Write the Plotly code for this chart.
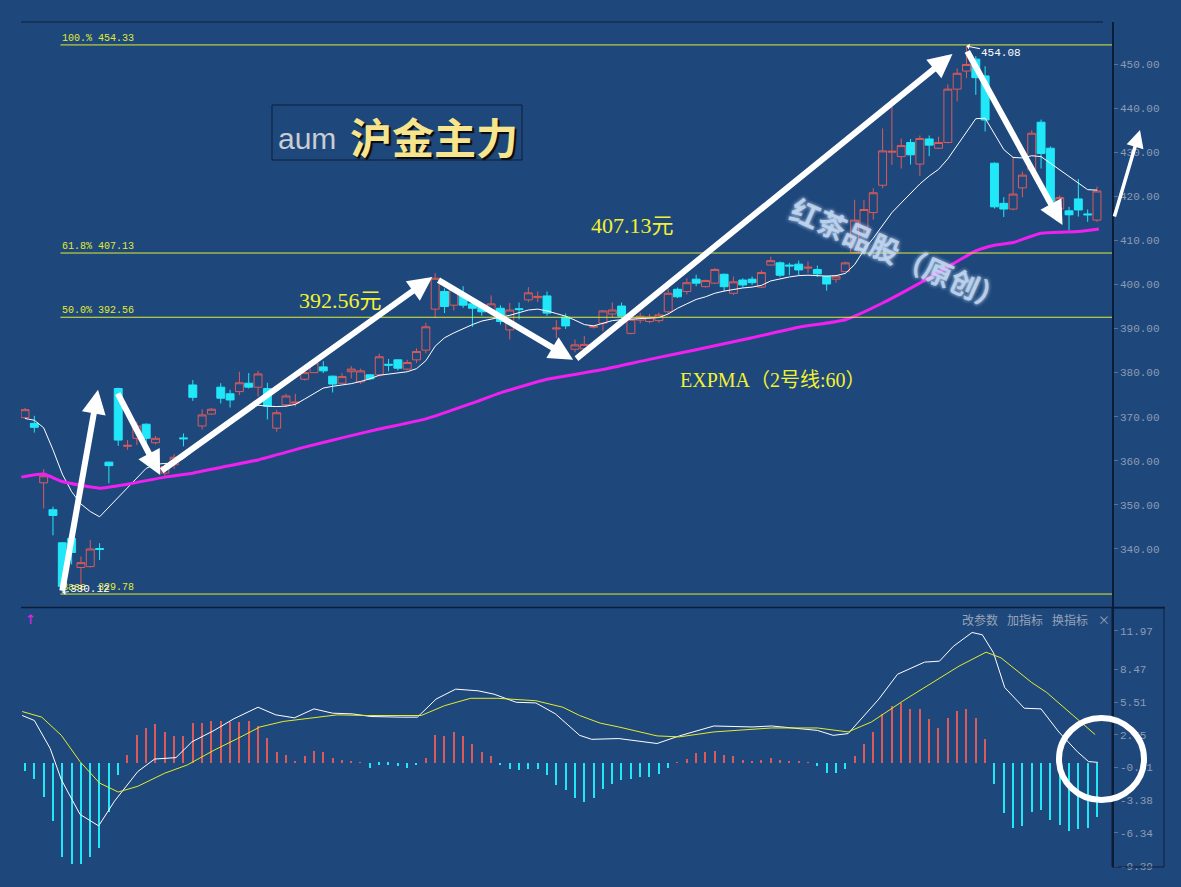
import plotly.graph_objects as go

# ---------------- data ----------------
opens = [369.8, 368.5, 355.0, 348.9, 341.4, 342.4, 335.8, 336.0, 340.1, 359.7,
         376.4, 363.3, 365.1, 368.3, 364.1, 357.2, 359.1, 365.2, 377.2, 367.9,
         370.6, 376.7, 375.2, 375.7, 377.6, 376.7, 376.4, 367.4, 372.7, 373.1,
         378.5, 380.0, 381.3, 379.2, 377.6, 380.2, 377.9, 379.5, 379.5, 381.9,
         382.9, 380.8, 382.9, 385.1, 394.4, 398.4, 395.3, 397.6, 395.6, 395.3,
         394.0, 394.6, 389.7, 394.5, 396.5, 397.0, 397.4, 389.9, 392.6, 385.3,
         385.4, 390.3, 391.2, 393.3, 395.1, 388.9, 391.9, 391.6, 391.8, 393.8,
         398.9, 398.4, 401.2, 399.5, 400.3, 402.3, 398.0, 401.0, 401.2, 399.4,
         404.4, 404.9, 404.4, 404.6, 403.7, 403.4, 401.8, 401.2, 402.9, 407.2,
         413.0, 416.3, 422.5, 430.0, 429.0, 432.2, 427.3, 433.0, 430.9, 432.2,
         444.3, 448.4, 451.1, 447.3, 427.5, 418.4, 417.1, 421.9, 426.0, 436.8,
         430.9, 417.1, 416.7, 419.4, 416.0, 414.6]
highs = [372.0, 370.2, 358.1, 349.6, 341.6, 342.6, 338.3, 342.0, 341.3, 359.8,
         376.6, 364.7, 368.9, 368.5, 365.6, 359.4, 361.5, 366.2, 378.3, 371.7,
         372.0, 377.6, 376.1, 380.2, 379.9, 380.4, 377.7, 371.5, 375.2, 375.2,
         380.4, 383.1, 382.6, 379.3, 379.9, 381.5, 380.9, 379.6, 384.3, 383.1,
         383.0, 382.9, 385.5, 391.3, 402.6, 399.1, 399.6, 399.6, 396.1, 395.8,
         397.5, 395.3, 395.8, 395.9, 399.4, 398.4, 398.4, 391.9, 393.4, 387.5,
         388.3, 390.8, 394.2, 395.9, 395.9, 392.6, 393.6, 393.3, 393.6, 399.1,
         399.3, 401.4, 402.2, 401.1, 403.7, 402.5, 401.8, 401.4, 401.8, 403.2,
         406.3, 405.2, 404.9, 405.4, 405.2, 404.3, 402.0, 402.1, 405.2, 419.2,
         419.2, 421.8, 435.4, 442.2, 433.1, 433.0, 433.8, 433.8, 433.5, 445.4,
         449.0, 454.08, 451.8, 449.5, 427.7, 419.8, 429.0, 425.6, 435.0, 437.4,
         431.3, 420.2, 417.6, 423.9, 417.0, 422.2]
lows = [369.5, 366.4, 349.2, 343.1, 330.12, 336.5, 330.3, 335.8, 337.5, 354.9,
        363.4, 362.5, 363.6, 363.6, 363.7, 356.5, 358.2, 363.3, 373.6, 367.1,
        370.4, 373.0, 372.1, 374.9, 376.4, 374.6, 369.4, 366.6, 372.2, 372.3,
        378.2, 379.9, 379.9, 375.5, 377.4, 378.7, 377.4, 378.3, 379.1, 380.3,
        380.5, 380.5, 382.2, 384.4, 392.4, 393.5, 394.1, 394.7, 390.4, 392.9,
        393.1, 390.9, 387.5, 392.1, 396.0, 396.0, 392.9, 387.8, 389.9, 384.6,
        384.8, 390.0, 389.4, 392.4, 392.3, 388.7, 391.2, 391.2, 391.3, 393.3,
        396.9, 397.7, 399.6, 399.3, 400.1, 398.4, 397.6, 399.3, 399.9, 399.2,
        404.3, 401.7, 402.1, 402.1, 402.6, 401.7, 398.6, 400.4, 402.7, 407.1,
        411.1, 414.7, 421.8, 427.1, 426.3, 427.2, 424.6, 429.1, 430.7, 432.0,
        441.5, 446.8, 443.0, 434.7, 417.2, 415.3, 416.8, 419.8, 425.6, 426.3,
        418.5, 416.6, 412.3, 415.4, 414.2, 414.2]
closes = [371.6, 367.6, 356.6, 347.6, 331.5, 339.2, 336.9, 340.0, 339.9, 358.9,
          364.7, 363.5, 367.9, 365.1, 365.1, 358.7, 360.8, 365.0, 374.4, 370.4,
          371.7, 374.2, 373.8, 377.7, 376.7, 379.7, 372.4, 370.9, 374.7, 373.3,
          380.0, 382.2, 380.4, 377.4, 379.1, 380.8, 380.4, 378.6, 383.6, 381.7,
          381.0, 382.3, 384.8, 390.4, 401.4, 395.0, 398.9, 395.3, 394.6, 393.8,
          395.6, 391.6, 394.2, 394.3, 398.1, 397.3, 393.5, 390.1, 390.6, 386.3,
          386.4, 390.5, 394.0, 394.2, 392.8, 392.1, 392.8, 392.6, 393.1, 398.0,
          397.2, 400.4, 400.3, 400.9, 403.4, 399.5, 400.6, 399.9, 400.4, 402.7,
          405.4, 402.1, 404.2, 403.3, 403.9, 402.4, 400.1, 401.9, 404.9, 414.6,
          417.0, 420.8, 430.3, 430.2, 431.5, 429.4, 433.1, 431.6, 432.2, 444.3,
          447.9, 449.9, 446.9, 437.3, 417.6, 417.1, 420.5, 424.8, 434.3, 429.7,
          418.8, 419.7, 415.8, 416.9, 415.8, 421.2]

# short EXPMA (white), one value per bar
ema_short = [369.6, 369.2, 367.5, 362.5, 357.0, 353.0, 350.2, 348.5, 347.3, 349.5,
             351.6, 354.0, 356.0, 358.3, 359.2, 359.4, 359.4, 360.5, 362.2, 364.0,
             366.0, 367.8, 369.3, 370.8, 372.0, 372.6, 372.4, 372.3, 372.4, 372.8,
             374.0, 375.3, 376.5, 376.9, 377.2, 377.5, 378.0, 378.6, 379.4, 379.7,
             380.0, 380.2, 380.9, 382.7, 386.0, 387.9, 389.0, 390.0, 390.9, 391.7,
             392.1, 392.5, 393.0, 393.6, 394.2, 394.4, 394.0, 393.4, 392.8, 391.9,
             390.9, 390.6, 391.2, 391.8, 392.0, 392.1, 392.2, 392.3, 392.5, 393.3,
             394.6, 395.6, 396.6, 397.2, 398.0, 398.5, 398.9, 399.2, 399.4, 399.8,
             400.8, 401.3, 401.7, 402.0, 402.1, 402.0, 401.9, 402.0, 402.5, 404.5,
             407.8, 410.5, 413.5, 416.3, 418.5, 420.6, 422.8, 424.6, 426.1, 428.5,
             431.6, 434.8, 437.6, 437.7, 434.0, 430.6, 428.8, 428.7, 429.2, 429.0,
             427.5, 426.0, 424.5, 423.0, 421.5, 421.4]
# EXPMA 60 (magenta), read at points along the line
ema60_idx = [-0.4, 2, 4, 8, 11, 15, 18, 21, 25, 30, 34, 38, 43, 48, 51, 56, 62, 67,
             72, 78, 83, 88, 92, 97, 102, 104, 106, 109, 113, 115.2]
ema60_val = [356.3, 357.0, 355.3, 353.8, 354.7, 356.3, 357.2, 358.5, 360.2, 363.1,
             365.2, 367.2, 369.5, 373.1, 375.4, 378.5, 380.7, 383.0, 385.2, 387.9,
             390.3, 392.0, 395.8, 401.5, 407.6, 408.9, 409.5, 411.6, 412.0, 412.6]

# MACD histogram, one value per bar
macd_hist = [-0.78, -1.43, -3.14, -5.32, -8.55, -9.15, -9.21, -8.55, -7.71, -4.42,
             -1.14, 0.72, 2.51, 3.20, 3.50, 2.75, 2.45, 2.45, 3.59, 3.59,
             3.80, 3.80, 3.71, 3.71, 3.80, 3.35, 2.21, 1.02, 0.72, 0.12,
             0.66, 1.10, 1.02, 0.42, 0.21, 0.15, 0.05, -0.48, -0.18, -0.18,
             -0.30, -0.45, -0.24, 0.42, 2.51, 2.45, 2.75, 2.45, 1.70, 0.96,
             0.66, -0.24, -0.54, -0.69, -0.54, -0.54, -1.14, -2.03, -2.48, -3.23,
             -3.53, -3.23, -2.39, -1.88, -1.58, -1.43, -1.29, -1.29, -0.99, -0.48,
             0.05, 0.33, 0.90, 1.02, 1.10, 0.72, 0.66, 0.21, 0.12, 0.21,
             0.42, 0.21, 0.15, 0.12, 0.02, -0.30, -0.90, -0.90, -0.54, 0.66,
             1.70, 2.75, 4.39, 5.14, 5.44, 4.84, 4.90, 3.95, 3.20, 4.10,
             4.69, 4.90, 4.10, 2.15, -1.88, -4.57, -5.92, -5.77, -4.42, -4.27,
             -5.17, -5.62, -6.16, -5.98, -5.92, -4.87]
dif_idx = [-0.3, 1.0, 2.7, 3.9, 5.9, 7.9, 9.6, 12.1, 13.9, 16.2, 17.9, 20.3, 22.4,
           25.0, 26.9, 28.9, 31.0, 33.0, 35.1, 37.1, 40.4, 42.1, 44.1, 46.2, 48.6,
           50.3, 52.7, 54.8, 56.9, 59.5, 60.8, 63.7, 67.8, 70.2, 73.9, 78.0, 80.1,
           85.0, 86.7, 88.3, 91.6, 93.6, 96.5, 98.1, 99.6, 101.6, 102.7, 103.9,
           105.1, 107.2, 109.0, 110.9, 112.9, 114.1, 115.1]
dif_val = [4.29, 3.84, 1.30, -1.54, -4.68, -5.72, -3.48, -0.79, 0.34, 0.47, 1.90,
           2.94, 3.99, 5.04, 4.35, 4.08, 4.89, 4.50, 4.44, 4.20, 4.14, 4.14, 5.78,
           6.68, 6.53, 6.23, 5.49, 5.43, 4.44, 2.49, 2.13, 2.20, 1.75, 2.44, 3.34,
           3.25, 3.34, 2.94, 2.49, 2.65, 5.78, 8.03, 9.13, 9.22, 10.57, 11.82,
           11.61, 9.97, 6.83, 4.95, 4.89, 2.80, 1.00, 0.11, 0.04]
dea_idx = [-0.3, 1.8, 3.9, 5.9, 8.0, 10.0, 12.1, 15.0, 17.4, 20.3, 22.8, 25.2,
           27.7, 30.2, 33.5, 36.7, 42.5, 45.0, 47.8, 50.7, 54.8, 57.7, 59.5, 61.7,
           63.7, 67.8, 70.2, 73.9, 80.1, 85.0, 88.3, 90.8, 94.5, 100.2, 103.1,
           104.7, 108.0, 109.6, 112.9, 114.8]
dea_val = [4.65, 4.14, 2.49, 0.11, -1.84, -2.65, -2.13, -0.94, -0.20, 1.15, 2.20,
           3.25, 3.75, 3.99, 4.35, 4.29, 4.29, 5.18, 5.85, 5.85, 5.63, 5.04, 4.29,
           3.60, 3.25, 2.44, 2.35, 2.80, 3.16, 3.16, 2.80, 3.70, 5.78, 8.77, 10.03,
           9.52, 7.28, 6.38, 3.99, 2.56]

fib_levels = [454.33, 407.13, 392.56, 329.78]
fib_labels = ["100.% 454.33", "61.8% 407.13", "50.0% 392.56", "Base  329.78"]

price_ticks = [340, 350, 360, 370, 380, 390, 400, 410, 420, 430, 440, 450]
macd_ticks = [11.97, 8.47, 5.51, 2.55, -0.41, -3.38, -6.34, -9.39]

# swing arrows: (bar index, price) tail -> head
swing_tails = [(3.97, 330.2), (9.87, 375.6), (14.5, 357.5), (44.2, 401.2), (59.0, 382.9), (101.0, 453.2)]
swing_heads = [(7.83, 376.1), (14.5, 356.8), (43.7, 401.7), (58.8, 382.9), (99.5, 452.3), (111.3, 413.5)]

# ---------------- styling ----------------
BG = "#1E487C"
DARK = "#0C1D38"
RED = "#DC5A5A"
CYAN = "#20E8F8"
MAGENTA = "#F020F0"
FIBY = "#E2EC30"
TXTY = "#F4F230"
AXT = "#8D9BB2"

W, H = 1181, 887
L, R, T, B = 21, 1112, 22, 867


def px(x):
    return (x - L) / (R - L)


def py(y):
    return (B - y) / (B - T)


n = len(closes)
idx = list(range(n))
x_range = [-0.43, 116.61]

fig = go.Figure()

fig.add_trace(go.Candlestick(
    x=idx, open=opens, high=highs, low=lows, close=closes,
    increasing=dict(line=dict(color=RED, width=1), fillcolor=BG),
    decreasing=dict(line=dict(color=CYAN, width=1), fillcolor=CYAN),
    whiskerwidth=0, hoverinfo="skip", showlegend=False, xaxis="x", yaxis="y"))

fig.add_trace(go.Scatter(x=idx, y=ema_short, mode="lines",
                         line=dict(color="white", width=1), hoverinfo="skip",
                         showlegend=False, yaxis="y"))
fig.add_trace(go.Scatter(x=ema60_idx, y=ema60_val, mode="lines",
                         line=dict(color=MAGENTA, width=3, shape="spline", smoothing=0.5),
                         hoverinfo="skip", showlegend=False, yaxis="y"))

fig.add_trace(go.Bar(x=idx, y=macd_hist, width=0.13,
                     marker=dict(color=[RED if v >= 0 else CYAN for v in macd_hist], line=dict(width=0)),
                     hoverinfo="skip", showlegend=False, yaxis="y2"))
fig.add_trace(go.Scatter(x=dif_idx, y=dif_val, mode="lines",
                         line=dict(color="white", width=1), hoverinfo="skip",
                         showlegend=False, yaxis="y2"))
fig.add_trace(go.Scatter(x=dea_idx, y=dea_val, mode="lines",
                         line=dict(color="#E4EC2C", width=1), hoverinfo="skip",
                         showlegend=False, yaxis="y2"))

shapes = []
annotations = []

# Fibonacci lines starting at the lowest bar
low_i = lows.index(min(lows))
fib_x0 = low_i - 0.2
for lvl, lab in zip(fib_levels, fib_labels):
    shapes.append(dict(type="line", xref="x", yref="y", x0=fib_x0, x1=x_range[1], y0=lvl, y1=lvl,
                       line=dict(color=FIBY, width=1), layer="above"))
    annotations.append(dict(x=fib_x0, y=lvl, xref="x", yref="y", text=lab, showarrow=False,
                            xanchor="left", yanchor="bottom", yshift=-1,
                            font=dict(family="Liberation Mono", size=10, color=FIBY)))

# frame lines
shapes.append(dict(type="line", xref="paper", yref="paper", x0=0, x1=px(1103), y0=1, y1=1,
                   line=dict(color=DARK, width=1)))
shapes.append(dict(type="line", xref="paper", yref="paper", x0=0, x1=px(1165), y0=py(607.5), y1=py(607.5),
                   line=dict(color=DARK, width=1.5)))
shapes.append(dict(type="rect", xref="paper", yref="paper", x0=1.0, x1=px(1164), y0=0, y1=py(608),
                   line=dict(color=DARK, width=1)))
# title box
shapes.append(dict(type="rect", xref="paper", yref="paper", x0=px(272), x1=px(522), y0=py(160), y1=py(105),
                   line=dict(color=DARK, width=1)))
# hand-drawn circle in the MACD panel
shapes.append(dict(type="circle", xref="paper", yref="paper", x0=px(1059), x1=px(1144), y0=py(800), y1=py(718),
                   line=dict(color="white", width=6)))

# swing arrows
for (tx, ty), (hx, hy) in zip(swing_tails, swing_heads):
    annotations.append(dict(x=hx, y=hy, ax=tx, ay=ty, xref="x", yref="y", axref="x", ayref="y",
                            text="", showarrow=True, arrowhead=2, arrowsize=0.8, arrowwidth=6,
                            arrowcolor="white"))
# small arrow at the right edge
annotations.append(dict(x=px(1140), y=py(130), xref="paper", yref="paper", ax=-26, ay=88,
                        text="", showarrow=True, arrowhead=2, arrowsize=1.0, arrowwidth=3.5,
                        arrowcolor="white"))

# extreme labels
hi_i = highs.index(max(highs))
annotations.append(dict(x=hi_i, y=highs[hi_i], xref="x", yref="y", ax=35, ay=7, text=f"{highs[hi_i]:.2f}",
                        showarrow=True, arrowhead=1, arrowsize=1, arrowwidth=1, arrowcolor="white",
                        font=dict(family="Liberation Mono", size=11, color="white")))
annotations.append(dict(x=low_i, y=lows[low_i], xref="x", yref="y", ax=28, ay=-4, text=f"{lows[low_i]:.2f}",
                        showarrow=True, arrowhead=1, arrowsize=1, arrowwidth=1, arrowcolor="white",
                        font=dict(family="Liberation Mono", size=11, color="white")))


def label(cx, cy, text, font, **kw):
    d = dict(x=px(cx), y=py(cy), xref="paper", yref="paper", text=text, showarrow=False,
             xanchor="center", yanchor="middle", font=font)
    d.update(kw)
    return d


annotations += [
    label(307, 138, "aum", dict(family="Liberation Sans", size=30, color="#C9CDD2")),
    label(434, 136, "<b>沪金主力</b>",
          dict(family="Noto Sans CJK SC", size=42, color="#F6E58E", shadow="2px 2px 1px #0A0A0A")),
    label(340, 300, "392.56元", dict(family="Liberation Serif, Noto Sans CJK SC", size=22, color=TXTY)),
    label(632, 226, "407.13元", dict(family="Liberation Serif, Noto Sans CJK SC", size=22, color=TXTY)),
    label(773, 380, "EXPMA（2号线:60）", dict(family="Liberation Serif, Noto Sans CJK SC", size=20, color=TXTY)),
    label(899, 253, "<b>红茶品股（原创）</b>",
          dict(family="Noto Sans CJK SC", size=29, color="rgba(195,215,242,0.85)",
               shadow="0px 0px 4px #DDEEFF"), textangle=24),
    label(30, 619, "↑", dict(family="DejaVu Sans", size=13, color=MAGENTA)),
]
for t, cx in zip(["改参数", "加指标", "换指标", "×"], [980, 1025, 1070, 1104]):
    annotations.append(label(cx, 620, t, dict(family="Noto Sans CJK SC", size=12, color="#98A3B6")))

fig.update_layout(
    width=W, height=H,
    margin=dict(l=L, r=W - R, t=T, b=H - B),
    paper_bgcolor=BG, plot_bgcolor=BG,
    boxgap=0.15, boxgroupgap=0.0,
    xaxis=dict(range=x_range, visible=False, rangeslider=dict(visible=False), fixedrange=True),
    yaxis=dict(domain=[py(607), 1], range=[326.84, 459.53], side="right",
               tickvals=price_ticks, ticktext=[f"{v:.2f}" for v in price_ticks],
               tickfont=dict(family="Liberation Mono", size=11, color=AXT),
               ticks="outside", ticklen=4, tickcolor="#5C6F8E",
               showline=True, linecolor=DARK, linewidth=1.5, showgrid=False, zeroline=False),
    yaxis2=dict(domain=[0, py(608)], range=[-9.45, 14.04], side="right",
                tickvals=macd_ticks, ticktext=[f"{v:.2f}" for v in macd_ticks],
                tickfont=dict(family="Liberation Mono", size=11, color=AXT),
                ticks="outside", ticklen=4, tickcolor="#5C6F8E",
                showline=True, linecolor=DARK, linewidth=1.5, showgrid=False, zeroline=False),
    shapes=shapes, annotations=annotations, showlegend=False, bargap=0,
)

fig.write_html("out.html", config={"displayModeBar": False},
               post_script="document.body.style.margin='0px';document.body.style.padding='0px';"
                           "document.body.style.overflow='hidden';"
                           "document.body.style.background='" + BG + "';")
